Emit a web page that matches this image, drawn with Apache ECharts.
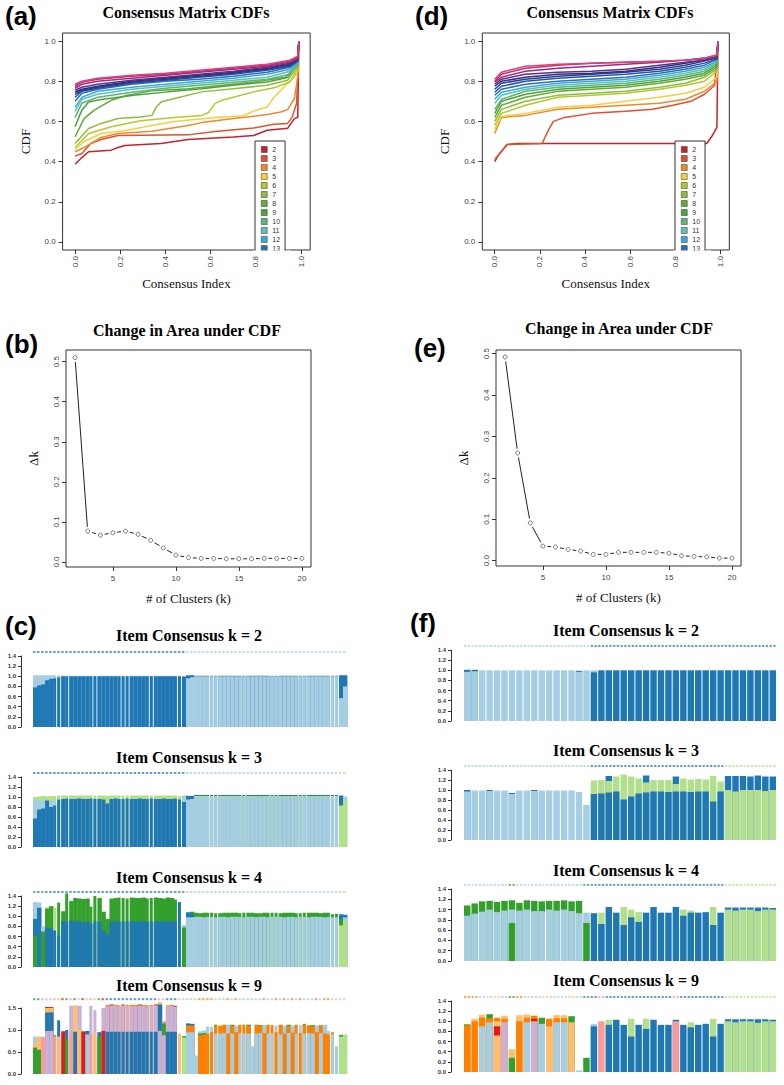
<!DOCTYPE html>
<html>
<head>
<meta charset="utf-8">
<script src="https://cdn.jsdelivr.net/npm/echarts@6.0.0/dist/echarts.min.js"></script>
<style>
html, body { margin: 0; padding: 0; background: #fff; }
#main { width: 784px; height: 1085px; }
</style>
</head>
<body>
<div id="main"></div>
<script>
// ---- data ----
var kLabels = ['2','3','4','5','6','7','8','9','10','11','12','13','14','15','16','17','18','19','20'];
var cdfColors = ['#C9202A','#E0502B','#EE8A2D','#F4D03F','#B5C730','#8DBE3E','#63AB36','#4DA23E','#5DB47A','#5EC0B6',
                 '#3AA9D9','#2E6FB2','#28549E','#283F8F','#2E2F7F','#5E2F86','#9A2E83','#C42A72','#D9437A'];

// (a) CDF lines, one per k. Either [x, y] pairs or y values on cdfXa
var cdfXa = [0, .03, .1, .25, .4, .55, .7, .85, .95, .985, .99];
var cdfA = [
  [[0,.387],[.03,.42],[.06,.449],[.16,.457],[.19,.47],[.22,.48],[.38,.49],[.5,.51],[.7,.523],[.79,.53],[.85,.556],[.93,.565],[.94,.565],[.97,.614],[.985,.62],[.99,1]],
  [[0,.427],[.03,.44],[.07,.49],[.115,.51],[.19,.53],[.5,.533],[.62,.55],[.79,.567],[.88,.586],[.94,.59],[.96,.62],[.98,.69],[.99,1]],
  [[0,.449],[.04,.47],[.115,.52],[.19,.54],[.34,.551],[.5,.58],[.56,.594],[.7,.614],[.85,.634],[.91,.647],[.94,.659],[.97,.714],[.985,.82],[.99,1]],
  [[0,.46],[.04,.5],[.115,.54],[.23,.556],[.34,.58],[.44,.6],[.62,.62],[.74,.627],[.8,.656],[.85,.672],[.88,.72],[.94,.79],[.97,.82],[.985,.85],[.99,1]],
  [[0,.47],[.06,.54],[.16,.573],[.29,.603],[.44,.62],[.56,.63],[.59,.644],[.62,.69],[.65,.705],[.7,.72],[.79,.747],[.88,.767],[.95,.796],[.985,.86],[.99,1]],
  [[0,.49],[.06,.565],[.115,.59],[.19,.614],[.29,.622],[.34,.63],[.36,.672],[.38,.697],[.44,.714],[.56,.747],[.7,.763],[.85,.78],[.94,.805],[.985,.87],[.99,1]],
  [[0,.523],[.04,.614],[.085,.656],[.16,.705],[.23,.73],[.34,.752],[.5,.763],[.65,.78],[.79,.796],[.93,.82],[.985,.88],[.99,1]],
  [[0,.573],[.03,.656],[.06,.697],[.115,.709],[.26,.73],[.41,.747],[.56,.763],[.7,.78],[.85,.796],[.94,.818],[.985,.887],[.99,1]],
  [.62,.69,.72,.745,.765,.78,.795,.81,.835,.89,1],
  [.65,.71,.735,.76,.775,.79,.805,.82,.85,.89,1],
  [.67,.72,.75,.77,.785,.80,.815,.835,.86,.895,1],
  [.70,.74,.76,.785,.80,.81,.825,.845,.87,.90,1],
  [.72,.75,.765,.79,.805,.82,.835,.855,.875,.90,1],
  [.735,.755,.77,.795,.81,.825,.84,.86,.88,.905,1],
  [.745,.76,.775,.80,.815,.83,.845,.865,.885,.91,1],
  [.755,.77,.785,.805,.82,.835,.85,.87,.89,.91,1],
  [.765,.785,.80,.815,.83,.845,.86,.875,.895,.915,1],
  [.775,.795,.81,.825,.835,.85,.865,.88,.90,.92,1],
  [.785,.80,.815,.83,.84,.855,.87,.885,.905,.925,1]
];

// (d) CDF lines
var cdfXd = [0, .03, .136, .28, .43, .58, .73, .845, .93, .985, .99];
var cdfD = [
  [[0,.4],[.015,.43],[.055,.485],[.1,.49],[.94,.49],[.965,.53],[.985,.57],[.99,1]],
  [[0,.41],[.015,.43],[.055,.485],[.21,.49],[.24,.56],[.26,.6],[.31,.62],[.43,.64],[.58,.65],[.7,.66],[.79,.68],[.87,.7],[.93,.735],[.975,.78],[.99,1]],
  [.54,.62,.63,.66,.67,.68,.69,.71,.75,.80,1],
  [.56,.625,.64,.67,.68,.70,.72,.74,.77,.82,1],
  [.58,.64,.68,.72,.73,.74,.76,.78,.80,.85,1],
  [.60,.66,.70,.73,.74,.75,.77,.79,.82,.86,1],
  [.62,.68,.72,.75,.76,.77,.79,.81,.83,.87,1],
  [.64,.70,.735,.76,.77,.78,.80,.82,.84,.88,1],
  [.66,.71,.75,.77,.78,.79,.81,.83,.85,.89,1],
  [.69,.73,.76,.78,.79,.80,.82,.84,.86,.90,1],
  [.71,.745,.77,.79,.80,.81,.83,.85,.87,.90,1],
  [.73,.76,.785,.80,.81,.82,.84,.86,.88,.91,1],
  [.745,.775,.80,.815,.825,.835,.85,.87,.89,.91,1],
  [.76,.79,.81,.825,.835,.845,.86,.88,.90,.915,1],
  [.775,.80,.82,.835,.84,.85,.87,.89,.905,.92,1],
  [.785,.81,.835,.845,.85,.86,.88,.895,.905,.92,1],
  [.795,.82,.85,.865,.875,.885,.895,.905,.91,.925,1],
  [.80,.835,.865,.88,.89,.895,.90,.905,.915,.93,1],
  [.81,.845,.875,.885,.89,.895,.90,.905,.915,.93,1]
];

// (b), (e) change in area under CDF
var deltaK = [2,3,4,5,6,7,8,9,10,11,12,13,14,15,16,17,18,19,20];
var deltaB = [0.51,0.077,0.067,0.073,0.077,0.069,0.054,0.035,0.017,0.011,0.009,0.009,0.008,0.008,0.008,0.009,0.009,0.009,0.009];
var deltaE = [0.492,0.26,0.091,0.035,0.033,0.027,0.023,0.015,0.015,0.02,0.02,0.02,0.02,0.018,0.012,0.01,0.009,0.006,0.006];

// item consensus: per item, [cluster, height, cluster, height, ...] bottom to top
var clusterColors = ['#A6CEE3','#1F78B4','#B2DF8A','#33A02C','#FB9A99','#E31A1C','#FDBF6F','#FF7F00','#CAB2D6'];
var gapsC = [5,6,8,14,15,21,22,23,28,29,35,36,43,44,45,51,52,58,59,60,65,66,67,73,74,75];

var itemsC2 = [
  [1,.78,0,.24],[1,.82,0,.2],[1,.84,0,.18],[1,.92,0,.1],[1,.95,0,.07],[1,.96,0,.06],[1,.98,0,.04],[1,1,0,.01],[1,1,0,.01],[1,1,0,.01],
  [1,1,0,.01],[1,1,0,.01],[1,1,0,.01],[1,1,0,.01],[1,1,0,.01],[1,1,0,.01],[1,1,0,.01],[1,1,0,.01],[1,1,0,.01],[1,1,0,.01],
  [1,1,0,.01],[1,1,0,.01],[1,1,0,.01],[1,1,0,.01],[1,1,0,.01],[1,1,0,.01],[1,1,0,.01],[1,1,0,.01],[1,1,0,.01],[1,1,0,.01],
  [1,1,0,.01],[1,1,0,.01],[1,1,0,.01],[1,1,0,.01],[1,1,0,.01],[1,1,0,.01],[1,1,0,.01],[1,.99,0,.02],
  [0,.96,1,.06],[0,.98,1,.04],
  [0,1,1,.01],[0,1,1,.01],[0,1,1,.01],[0,1,1,.01],[0,1,1,.01],[0,1,1,.01],[0,1,1,.01],[0,1,1,.01],[0,1,1,.01],[0,1,1,.01],
  [0,1,1,.01],[0,1,1,.01],[0,1,1,.01],[0,1,1,.01],[0,1,1,.01],[0,1,1,.01],[0,1,1,.01],[0,1,1,.01],[0,1,1,.01],[0,1,1,.01],
  [0,1,1,.01],[0,1,1,.01],[0,1,1,.01],[0,1,1,.01],[0,1,1,.01],[0,1,1,.01],[0,1,1,.01],[0,1,1,.01],[0,1,1,.01],[0,1,1,.01],
  [0,1,1,.01],[0,1,1,.01],[0,1,1,.01],[0,1,1,.01],[0,1,1,.01],[0,1,1,.01],
  [0,.57,1,.45],[0,.8,1,.22]
];
var itemsC3 = [
  [1,.57,0,.38,2,.05],[1,.75,0,.18,2,.08],[1,.77,0,.15,2,.1],[1,.93,2,.08],[1,.8,0,.12,2,.1],[1,.83,0,.1,2,.09],[1,.95,2,.08],[1,.96,2,.07],[1,.97,2,.06],[1,.96,2,.07],
  [1,.96,2,.07],[1,.97,2,.06],[1,.96,2,.07],[1,.96,2,.07],[1,.97,2,.06],[1,.96,2,.07],[1,.96,2,.07],[1,.95,2,.08],[1,.87,2,.15],[1,.96,2,.07],
  [1,.97,2,.06],[1,.96,2,.07],[1,.96,2,.07],[1,.97,2,.06],[1,.96,2,.07],[1,.96,2,.07],[1,.97,2,.06],[1,.96,2,.07],[1,.96,2,.07],[1,.97,2,.06],
  [1,.96,2,.07],[1,.96,2,.07],[1,.97,2,.06],[1,.96,2,.07],[1,.96,2,.07],[1,.97,2,.06],[1,.95,2,.07],[1,.9,0,.1,2,.03],
  [0,.95,1,.07,2,.01],[0,.96,1,.06],
  [0,1,2,.02,1,.02],[0,1,2,.02,1,.02],[0,1,2,.02,1,.02],[0,1,2,.02,1,.02],[0,1,2,.02,1,.02],[0,1,2,.02,1,.02],[0,1,2,.02,1,.02],[0,1,2,.02,1,.02],[0,1,2,.02,1,.02],[0,1,2,.02,1,.02],
  [0,1,2,.02,1,.02],[0,1,2,.02,1,.02],[0,1,2,.02,1,.02],[0,1,2,.02,1,.02],[0,1,2,.02,1,.02],[0,1,2,.02,1,.02],[0,1,2,.02,1,.02],[0,1,2,.02,1,.02],[0,1,2,.02,1,.02],[0,1,2,.02,1,.02],
  [0,1,2,.02,1,.02],[0,1,2,.02,1,.02],[0,1,2,.02,1,.02],[0,1,2,.02,1,.02],[0,1,2,.02,1,.02],[0,1,2,.02,1,.02],[0,1,2,.02,1,.02],[0,1,2,.02,1,.02],[0,1,2,.02,1,.02],[0,1,2,.02,1,.02],
  [0,1,2,.02,1,.02],[0,1,2,.02,1,.02],[0,1,2,.02,1,.02],[0,1,2,.02,1,.02],[0,1,2,.02,1,.02],[0,1,2,.02,1,.02],
  [2,.83,1,.2],[2,.93,0,.08]
];
var itemsC4 = [
  [3,.62,1,.33,0,.33],[1,1.17,0,.1],[3,.7,0,.1],[1,.77,3,.38,2,.03],[1,.77,3,.43],[1,.72,2,.45],[1,.62,3,.65],[1,.9,3,.2],[1,.9,3,.55],[1,.92,3,.38],
  [1,.9,3,.46],[1,.9,3,.45],[1,.88,3,.46],[1,.9,3,.45],[1,.85,3,.34],[1,.9,3,.5],[1,.9,3,.46],[1,.72,3,.37],[1,.65,3,.3],[1,.9,3,.45],
  [1,.9,3,.46],[1,.9,3,.47],[1,.9,3,.46],[1,.9,3,.45],[1,.9,3,.47],[1,.9,3,.46],[1,.9,3,.46],[1,.9,3,.47],[1,.9,3,.45],[1,.9,3,.46],
  [1,.9,3,.47],[1,.9,3,.46],[1,.9,3,.45],[1,.9,3,.47],[1,.9,3,.46],[1,.9,3,.43],[1,1.28],[3,.78,0,.05],
  [0,.98,1,.1],[0,.98,1,.07,3,.04],
  [0,.99,3,.08],[0,.99,3,.07],[0,.98,3,.09],[0,.99,3,.08],[0,.99,3,.08],[0,.98,3,.08],[0,.99,3,.07],[0,.99,3,.08],[0,.98,3,.09],[0,.99,3,.08],
  [0,.99,3,.08],[0,.99,3,.07],[0,.98,3,.09],[0,.99,3,.08],[0,.99,3,.08],[0,.98,3,.08],[0,.99,3,.07],[0,.99,3,.08],[0,.98,3,.09],[0,.99,3,.08],
  [0,.99,3,.08],[0,.99,3,.07],[0,.98,3,.09],[0,.99,3,.08],[0,.99,3,.08],[0,.98,3,.08],[0,.99,3,.07],[0,.99,3,.08],[0,.98,3,.09],[0,.99,3,.08],
  [0,.99,3,.08],[0,.99,3,.07],[0,.98,3,.09],[0,.99,3,.08],[0,.98,3,.06],[0,.98,3,.07],
  [2,.82,3,.12,1,.1],[2,.9,0,.08,1,.05]
];
var itemsC9 = [
  [3,.6,6,.1,0,.15],[3,.55,6,.3],[4,.84],[8,.98,1,.42,6,.1,5,.02],[8,.98,1,.42,6,.1,5,.02],[4,.86,3,.02],[6,.85,1,.37],[5,.97],[3,.8,1,.2],[4,.95,8,.6],
  [1,.96,6,.6],[6,1,8,.55],[5,.97],[0,.9,1,.08],[4,.9,8,.65],[6,.95,8,.5],[3,.85,1,.1],[5,.98,8,.52],[1,.96,8,.59,7,.02],[1,.96,8,.6,5,.02],
  [1,.96,8,.59,7,.02],[1,.96,8,.58,7,.02],[1,.96,8,.6,5,.02],[1,.96,8,.59,7,.02],[1,.96,8,.58,7,.03],[1,.96,8,.59,7,.02],[1,.96,8,.6,5,.02],[1,.96,8,.59,7,.02],[1,.96,8,.58,7,.02],[1,.96,8,.59,7,.02],
  [1,.96,8,.6,5,.02],[8,.98,1,.6,6,.06],[8,.88,3,.27,4,.05],[1,.96,8,.58,7,.02],[1,.96,8,.59,7,.02],[1,.96,8,.57,5,.02],[6,.9,2,.02],[2,.83,3,.03],
  [0,.95,7,.15,1,.05],[0,.95,7,.15,1,.04],
  [0,.42],[7,.88,3,.04,0,.05],[7,.9,3,.03,0,.06],[7,.92,0,.16],[7,.95,0,.12],[0,.92,7,.18,3,.02],[0,.92,7,.18],[0,.93,7,.19],[7,.92,0,.2],[0,.92,7,.18,3,.02],
  [7,.95,0,.15],[0,.93,7,.19],[0,.92,7,.2],[0,.92,7,.17,3,.03],[0,.63],[0,.92,7,.2],[0,.93,7,.16,3,.02],[7,.93,0,.18],[0,.92,7,.2],[0,.93,7,.18],
  [7,.95,0,.15],[0,.9,7,.22],[7,.92,0,.18],[0,.93,7,.17,3,.02],[7,.94,0,.16],[0,.92,7,.2],[7,.93,0,.18],[0,.92,7,.2,3,.02],[0,.93,7,.18],[0,.92,7,.16,3,.03],
  [7,.95,0,.15],[0,.93,7,.18],[7,.92,0,.2],[7,.9,0,.08],[0,.9,7,.05],[0,.63],
  [2,.85,3,.04],[2,.9]
];

var itemsF2 = [
  [0,.97,1,.04],[0,.98,1,.03],[0,1],[0,1],[0,1],[0,1],[0,1],[0,1],[0,1],[0,1],
  [0,1],[0,1],[0,1],[0,1],[0,1],[0,.97,1,.02],[0,1],
  [1,.96,0,.04],[1,1],[1,1],[1,1],[1,1],[1,1],[1,1],[1,1],[1,1],[1,1],[1,1],
  [1,1],[1,1],[1,1],[1,1],[1,1],[1,1],[1,1],[1,1],[1,1],[1,1],[1,1],[1,1],[1,1],[1,1]
];
var itemsF3 = [
  [0,.97,1,.03],[0,.99],[0,.99],[0,.98,1,.02],[0,.99],[0,.99],[0,.92,1,.02],[0,.99],[0,.99],[0,.98,1,.02],
  [0,.99],[0,.99],[0,.99],[0,.99],[0,.99],[0,.96],[0,.7],
  [1,.92,2,.27],[1,.93,2,.27],[1,.95,2,.23,1,.1],[1,.97,2,.3],[1,.81,2,.5],[1,.87,2,.4],[1,.93,2,.3],[1,.95,2,.2,1,.14],[1,.97,2,.23],[1,.97,2,.23],
  [1,.96,2,.24],[1,.97,2,.15,1,.15],[1,.97,2,.26],[1,.96,2,.25],[1,.97,2,.25],[1,.97,2,.24],[1,.77,2,.51],[1,.97,2,.2],
  [2,1,1,.28],[2,.97,1,.31],[2,1,1,.28],[2,1,1,.27],[2,1,1,.29],[2,.98,1,.29],[2,1,1,.27]
];
var itemsF4 = [
  [0,.88,3,.2],[0,.92,3,.2],[0,.96,3,.2],[0,1,3,.17],[0,.95,3,.2],[0,.98,3,.19],[3,.74,0,.26,3,.18],[0,.98,3,.15],[0,1,3,.18],[0,.97,3,.2],
  [0,.97,3,.19],[0,1,3,.17],[0,.98,3,.19],[0,1,3,.18],[0,.97,3,.19],[0,.93,3,.24],[3,.74,0,.2],
  [1,.93],[1,.72,2,.22],[1,1.05],[1,.94],[1,.7,2,.35],[1,.85,2,.15],[1,.76,2,.19],[1,.94],[1,1.05],[1,.94],
  [1,.94],[1,1.05],[1,.88,2,.12],[1,.94,2,.04],[1,.94],[1,.95],[1,.7,2,.35],[1,.94],
  [2,1,1,.04],[2,.98,1,.06],[2,1,1,.04],[2,1,1,.04],[2,.97,1,.07],[2,1,1,.04],[2,1,1,.03]
];
var itemsF9 = [
  [7,.92,3,.02],[7,1,6,.05],[0,.9,7,.17,6,.06],[0,.98,7,.08,3,.08],[6,.72,5,.18,6,.1,7,.07],[8,.98,7,.07,6,.06],[3,.28,6,.17],[7,1,6,.12],[0,.98,7,.09,6,.06],[8,1,5,.05,7,.06],
  [0,.95,3,.12],[6,.9,7,.15],[0,.98,7,.08,6,.06],[0,.98,7,.08,6,.06],[6,.98,3,.12],[0,.03],[3,.28],
  [1,.9,0,.05],[4,1],[1,.93,2,.1],[1,1.03],[1,.93],[1,.7,2,.35],[1,.93],[1,.85,2,.2],[1,1.03],[1,.93],
  [1,.93],[4,1,1,.03],[1,.93],[1,.88,2,.1],[1,.93],[1,.95],[1,.7,2,.35],[1,.95],
  [2,1,1,.04],[2,.98,1,.06],[2,1,1,.04],[2,1,1,.04],[2,.97,1,.07],[2,1,1,.04],[2,1,1,.03]
];

// ---- helpers ----
var SANS = 'Liberation Sans', SERIF = 'Liberation Serif';
var tickFmt = function (v) { return v.toFixed(1); };

function cdfRows(rows, xs) {
  return rows.map(function (r) {
    return Array.isArray(r[0]) ? r : r.map(function (y, i) { return [xs[i], y]; });
  });
}

function boxGrid(left, top, width, height) {
  return { left: left, top: top, width: width, height: height, show: true, borderColor: '#333', borderWidth: 1,
           backgroundColor: 'transparent', outerBoundsMode: 'none' };
}
function plainGrid(left, top, width, height) {
  return { left: left, top: top, width: width, height: height, show: false, outerBoundsMode: 'none' };
}

function cdfX(g) {
  var vals = [0, .2, .4, .6, .8, 1];
  return { type: 'value', gridIndex: g, min: -0.055, max: 1.04,
    axisLine: { show: false, onZero: false }, splitLine: { show: false },
    axisTick: { show: true, length: 4, customValues: vals, lineStyle: { color: '#333' } },
    axisLabel: { customValues: vals, rotate: 90, fontSize: 8, color: '#444', fontFamily: SANS, margin: 6, formatter: tickFmt },
    name: 'Consensus Index', nameLocation: 'middle', nameGap: 27, nameMoveOverlap: false,
    nameTextStyle: { fontFamily: SERIF, fontSize: 13, color: '#111' } };
}
function cdfY(g) {
  var vals = [0, .2, .4, .6, .8, 1];
  return { type: 'value', gridIndex: g, min: -0.04, max: 1.04,
    axisLine: { show: false, onZero: false }, splitLine: { show: false },
    axisTick: { show: true, length: 4, customValues: vals, lineStyle: { color: '#333' } },
    axisLabel: { customValues: vals, fontSize: 8, color: '#444', fontFamily: SANS, margin: 7, formatter: tickFmt },
    name: 'CDF', nameLocation: 'middle', nameGap: 31, nameMoveOverlap: false,
    nameTextStyle: { fontFamily: SERIF, fontSize: 13, color: '#111' } };
}
function deltaX(g) {
  var vals = [5, 10, 15, 20];
  return { type: 'value', gridIndex: g, min: 1.28, max: 20.72,
    axisLine: { show: false, onZero: false }, splitLine: { show: false },
    axisTick: { show: true, length: 4, customValues: vals, lineStyle: { color: '#333' } },
    axisLabel: { customValues: vals, fontSize: 8, color: '#444', fontFamily: SANS, margin: 7 },
    name: '# of Clusters (k)', nameLocation: 'middle', nameGap: 25, nameMoveOverlap: false,
    nameTextStyle: { fontFamily: SERIF, fontSize: 13, color: '#111' } };
}
function deltaY(g, min, max) {
  var vals = [0, .1, .2, .3, .4, .5];
  return { type: 'value', gridIndex: g, min: min, max: max,
    axisLine: { show: false, onZero: false }, splitLine: { show: false },
    axisTick: { show: true, length: 4, customValues: vals, lineStyle: { color: '#333' } },
    axisLabel: { customValues: vals, rotate: 90, fontSize: 8, color: '#444', fontFamily: SANS, margin: 6, formatter: tickFmt },
    name: 'Δk', nameLocation: 'middle', nameGap: 26, nameMoveOverlap: false,
    nameTextStyle: { fontFamily: SERIF, fontSize: 13, color: '#111' } };
}
function barX(g, n) {
  return { type: 'value', gridIndex: g, min: 0, max: n, show: false, axisLine: { onZero: false } };
}
function barY(g, max, step, offset) {
  return { type: 'value', gridIndex: g, min: 0, max: max, interval: step, offset: offset,
    axisLine: { show: true, onZero: false, lineStyle: { color: '#333', width: 1 } }, splitLine: { show: false },
    axisTick: { show: true, length: 3, lineStyle: { color: '#333' } },
    axisLabel: { fontSize: 6, fontWeight: 'bold', color: '#333', fontFamily: SANS, margin: 5, formatter: tickFmt } };
}

function cdfSeries(g, rows) {
  return rows.map(function (pts, j) {
    return { type: 'line', name: kLabels[j], xAxisIndex: g, yAxisIndex: g, data: pts,
      showSymbol: false, symbol: 'none', silent: true, z: 2,
      lineStyle: { color: cdfColors[j], width: 1.5 }, itemStyle: { color: cdfColors[j] } };
  });
}
function deltaSeries(g, vals) {
  var pts = deltaK.map(function (k, i) { return [k, vals[i]]; });
  return [
    // white discs leave a gap in the line around each point, as R's type = "b" does
    { type: 'line', xAxisIndex: g, yAxisIndex: g, data: pts, silent: true,
      symbol: 'circle', symbolSize: 9, showSymbol: true,
      itemStyle: { color: '#fff', borderColor: '#fff', borderWidth: 0 },
      lineStyle: { color: '#222', width: 1 } },
    { type: 'scatter', xAxisIndex: g, yAxisIndex: g, data: pts, silent: true, z: 3,
      symbol: 'circle', symbolSize: 4, itemStyle: { color: '#fff', borderColor: '#333', borderWidth: 0.8 } }
  ];
}
function itemSeries(g, items, gaps, stripVal) {
  return {
    type: 'custom', xAxisIndex: g, yAxisIndex: g, clip: false, silent: true,
    encode: { x: 0, y: 1 },
    data: items.map(function (segs, i) {
      var t = 0; for (var s = 1; s < segs.length; s += 2) t += segs[s];
      return [i, t];
    }),
    renderItem: function (params, api) {
      var i = params.dataIndex, segs = items[i];
      var x0 = api.coord([i, 0])[0], x1 = api.coord([i + 1, 0])[0];
      var gap = gaps === true || gaps.indexOf(i) >= 0;
      var w = gap ? x1 - x0 - 1 : x1 - x0 + 0.4;
      var y0 = api.coord([i, 0])[1];
      var tops = [], cum = 0;
      for (var s = 0; s < segs.length; s += 2) { cum += segs[s + 1]; tops.push(cum); }
      var kids = [];
      // draw from the top segment down so lower segments overlap seams
      for (var t = tops.length - 1; t >= 0; t--) {
        var yt = api.coord([i, tops[t]])[1];
        kids.push({ type: 'rect', shape: { x: x0, y: yt, width: w, height: y0 - yt },
                    style: { fill: clusterColors[segs[2 * t]] } });
      }
      var ys = api.coord([i, stripVal])[1];
      var n = Math.max(1, Math.round((x1 - x0) / 3.7)), step = (x1 - x0) / n;
      for (var d = 0; d < n; d++) {
        kids.push({ type: 'rect', shape: { x: x0 + d * step, y: ys - 1, width: step * 0.62, height: 2 },
                    style: { fill: clusterColors[segs[0]], opacity: 0.7 } });
      }
      return { type: 'group', children: kids };
    }
  };
}

function label(text, x, y) {
  return { type: 'text', x: x, y: y, z: 50,
    style: { text: text, fontSize: 26, fontWeight: 'bold', fontFamily: SANS, fill: '#000',
             textAlign: 'left', align: 'left', textVerticalAlign: 'top', verticalAlign: 'top' } };
}
function heading(text, x, y) {
  return { type: 'text', x: x, y: y, z: 50,
    style: { text: text, fontSize: 16, fontWeight: 'bold', fontFamily: SERIF, fill: '#000',
             textAlign: 'center', align: 'center', textVerticalAlign: 'top', verticalAlign: 'top' } };
}

// ---- layout: grid indices ----
// 0 a, 1 d, 2 b, 3 e, 4-7 c (k=2,3,4,9), 8-11 f (k=2,3,4,9)
var grids = [
  boxGrid(62.6, 33, 247.6, 217),
  boxGrid(482.3, 33, 247, 217),
  boxGrid(66, 350, 245, 217),
  boxGrid(496, 350, 245, 216),
  plainGrid(33, 656, 314, 71),
  plainGrid(33, 777, 314, 70),
  plainGrid(33, 896, 314, 71),
  plainGrid(33, 1008, 314, 66),
  plainGrid(464, 650, 313, 71),
  plainGrid(464, 770, 313, 70),
  plainGrid(464, 889, 313, 72),
  plainGrid(464, 1001, 313, 71)
];

var xAxes = [cdfX(0), cdfX(1), deltaX(2), deltaX(3),
  barX(4, itemsC2.length), barX(5, itemsC3.length), barX(6, itemsC4.length), barX(7, itemsC9.length),
  barX(8, itemsF2.length), barX(9, itemsF3.length), barX(10, itemsF4.length), barX(11, itemsF9.length)];
var yAxes = [cdfY(0), cdfY(1), deltaY(2, -0.0125, 0.529), deltaY(3, -0.013, 0.509),
  barY(4, 1.4, 0.2, 12), barY(5, 1.4, 0.2, 12), barY(6, 1.4, 0.2, 12), barY(7, 1.5, 0.5, 12),
  barY(8, 1.4, 0.2, 13), barY(9, 1.4, 0.2, 13), barY(10, 1.4, 0.2, 13), barY(11, 1.4, 0.2, 13)];

var series = []
  .concat(cdfSeries(0, cdfRows(cdfA, cdfXa)))
  .concat(cdfSeries(1, cdfRows(cdfD, cdfXd)))
  .concat(deltaSeries(2, deltaB))
  .concat(deltaSeries(3, deltaE))
  .concat([
    itemSeries(4, itemsC2, gapsC, 1.48),
    itemSeries(5, itemsC3, gapsC, 1.48),
    itemSeries(6, itemsC4, gapsC, 1.48),
    itemSeries(7, itemsC9, gapsC, 1.7),
    itemSeries(8, itemsF2, true, 1.48),
    itemSeries(9, itemsF3, true, 1.48),
    itemSeries(10, itemsF4, true, 1.48),
    itemSeries(11, itemsF9, true, 1.48)
  ]);

function legendAt(left) {
  return { data: kLabels.slice(0, 12), left: left, top: 141, orient: 'vertical', icon: 'rect',
    itemWidth: 6, itemHeight: 6, itemGap: 2, selectedMode: false, padding: [5, 5, 3, 6],
    backgroundColor: '#fff', borderColor: '#333', borderWidth: 1, z: 10,
    itemStyle: { borderColor: '#333', borderWidth: 0.5 },
    textStyle: { fontSize: 7, lineHeight: 7, height: 7, color: '#333', fontFamily: SANS } };
}

var chart = echarts.init(document.getElementById('main'), null, { renderer: 'svg' });
chart.setOption({
  animation: false,
  backgroundColor: '#fff',
  grid: grids,
  xAxis: xAxes,
  yAxis: yAxes,
  legend: [legendAt(255), legendAt(675)],
  series: series,
  graphic: { elements: [
    label('(a)', 5, 3), label('(d)', 415, 3),
    label('(b)', 5, 331), label('(e)', 414, 335),
    label('(c)', 5, 613), label('(f)', 410, 610),
    heading('Consensus Matrix CDFs', 186, 4), heading('Consensus Matrix CDFs', 610, 4),
    heading('Change in Area under CDF', 187, 322), heading('Change in Area under CDF', 619, 320),
    heading('Item Consensus k = 2', 189, 627), heading('Item Consensus k = 3', 189, 749),
    heading('Item Consensus k = 4', 189, 869), heading('Item Consensus k = 9', 189, 977),
    heading('Item Consensus k = 2', 626, 622), heading('Item Consensus k = 3', 626, 742),
    heading('Item Consensus k = 4', 626, 862), heading('Item Consensus k = 9', 626, 972),
    // legend boxes are cut off by the plot's bottom edge
    { type: 'rect', z: 100, shape: { x: 253, y: 250.6, width: 38, height: 5.4 }, style: { fill: '#fff' } },
    { type: 'rect', z: 100, shape: { x: 673, y: 250.6, width: 38, height: 5.4 }, style: { fill: '#fff' } }
  ] }
});
</script>
</body>
</html>
